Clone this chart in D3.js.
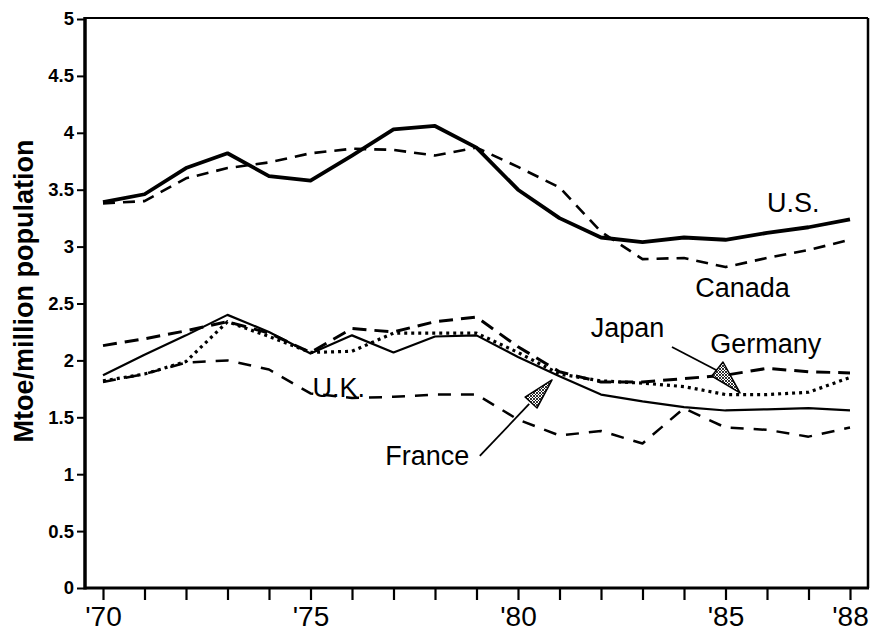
<!DOCTYPE html>
<html>
<head>
<meta charset="utf-8">
<script src="https://cdn.jsdelivr.net/npm/d3@7"></script>
<style>
  html, body { margin: 0; padding: 0; background: #fff; }
  svg { display: block; font-family: "Liberation Sans", Arial, sans-serif; }
</style>
</head>
<body>
<svg id="chart" width="871" height="633"></svg>
<script>
// ---- data ----
const years = [1970,1971,1972,1973,1974,1975,1976,1977,1978,1979,1980,1981,1982,1983,1984,1985,1986,1987,1988];
const us      = [3.39,3.46,3.69,3.82,3.62,3.58,3.80,4.03,4.06,3.87,3.50,3.25,3.08,3.04,3.08,3.06,3.12,3.17,3.24];
const canada  = [3.38,3.40,3.60,3.69,3.74,3.82,3.86,3.85,3.80,3.87,3.70,3.52,3.13,2.89,2.90,2.82,2.90,2.97,3.06];
const france  = [1.87,2.05,2.22,2.40,2.25,2.06,2.22,2.07,2.21,2.22,2.03,1.86,1.70,1.64,1.59,1.56,1.57,1.58,1.56];
const germany = [2.13,2.19,2.26,2.34,2.24,2.07,2.28,2.25,2.34,2.38,2.12,1.90,1.81,1.81,1.84,1.87,1.93,1.90,1.89];
const japan   = [1.82,1.88,1.99,2.34,2.21,2.07,2.08,2.24,2.24,2.24,2.07,1.88,1.82,1.80,1.77,1.70,1.70,1.72,1.85];
const uk      = [1.81,1.88,1.98,2.00,1.92,1.71,1.67,1.68,1.70,1.70,1.48,1.34,1.38,1.27,1.58,1.41,1.39,1.33,1.41];
const yTicks = [0,0.5,1,1.5,2,2.5,3,3.5,4,4.5,5];
const xLabelYears = [1970,1975,1980,1985,1988];
const yTitle = "Mtoe/million population";

// labels in data coordinates [year, value]
const seriesLabels = [
  {text:"U.S.",    at:[1986.0, 3.30]},
  {text:"Canada",  at:[1984.27, 2.557]},
  {text:"Japan",   at:[1981.75, 2.206]},
  {text:"Germany", at:[1984.63, 2.065]},
  {text:"France",  at:[1976.80, 1.081]},
  {text:"U.K.",    at:[1975.05, 1.678]}
];
// callout arrows (data coordinates)
const callouts = [
  {from:[1983.71, 2.118], to:[1984.82, 1.907], head:[[1985.35,1.714],[1984.94,1.986],[1984.67,1.863]]},
  {from:[1979.08, 1.160], to:[1980.27, 1.617], head:[[1980.82,1.828],[1980.17,1.678],[1980.46,1.582]]}
];

// ---- layout ----
const svg = d3.select("#chart");
const frame = {left:85, right:868, top:18, bottom:588};
const x = d3.scaleLinear().domain([1970,1988]).range([103,850]);
const y = d3.scaleLinear().domain([0,5]).range([588,19]);

// hatch pattern
const defs = svg.append("defs");
const pat = defs.append("pattern").attr("id","hatch").attr("patternUnits","userSpaceOnUse")
  .attr("width",3).attr("height",3);
pat.append("rect").attr("width",3).attr("height",3).attr("fill","#fff");
pat.append("path").attr("d","M0,0L3,3M3,0L0,3").attr("stroke","#000").attr("stroke-width",0.8);

// frame: top and right borders
svg.append("line").attr("x1",frame.left).attr("x2",frame.right).attr("y1",frame.top).attr("y2",frame.top)
  .attr("stroke","#000").attr("stroke-width",2);
svg.append("line").attr("x1",frame.right).attr("x2",frame.right).attr("y1",frame.top).attr("y2",frame.bottom)
  .attr("stroke","#000").attr("stroke-width",2.5);

// y axis
const yAxis = d3.axisLeft(y).tickValues(yTicks).tickSize(8).tickPadding(3)
  .tickFormat(d => d3.format("")(d));
const gy = svg.append("g").attr("transform",`translate(${frame.left},0)`).call(yAxis);
gy.select(".domain").remove();
gy.selectAll(".tick line").attr("stroke","#000").attr("stroke-width",2);
gy.selectAll(".tick text").attr("font-size",18.5).attr("font-weight","bold").attr("fill","#000")
  .attr("font-family",'"Liberation Sans", Arial, sans-serif');
svg.append("line").attr("x1",frame.left).attr("x2",frame.left).attr("y1",frame.top-1).attr("y2",frame.bottom+1.5)
  .attr("stroke","#000").attr("stroke-width",3.5);

// x axis
const xAxis = d3.axisBottom(x).tickValues(years).tickSize(12).tickPadding(6)
  .tickFormat(d => xLabelYears.includes(d) ? "'" + String(d).slice(2) : "");
const gx = svg.append("g").attr("transform",`translate(0,${frame.bottom})`).call(xAxis);
gx.select(".domain").remove();
gx.selectAll(".tick line").attr("stroke","#000").attr("stroke-width",2.2);
gx.selectAll(".tick text").attr("font-size",28).attr("fill","#000")
  .attr("font-family",'"Liberation Sans", Arial, sans-serif');
svg.append("line").attr("x1",frame.left).attr("x2",frame.right+1).attr("y1",frame.bottom).attr("y2",frame.bottom)
  .attr("stroke","#000").attr("stroke-width",3);

// y title
svg.append("text").attr("transform","translate(33,291) rotate(-90)")
  .attr("text-anchor","middle").attr("font-size",27).attr("font-weight","bold").text(yTitle);

// series
const series = [
  {values: uk,      width:2.5, dash:"13,10"},
  {values: germany, width:3,   dash:"14,8"},
  {values: japan,   width:3.2, dash:"3,4"},
  {values: france,  width:2.2, dash:null},
  {values: canada,  width:2.6, dash:"12,8"},
  {values: us,      width:3.8, dash:null}
];
const line = d3.line().x((d,i) => x(years[i])).y(d => y(d));
series.forEach(s => {
  svg.append("path").datum(s.values).attr("d", line)
    .attr("fill","none").attr("stroke","#000").attr("stroke-width",s.width)
    .attr("stroke-linejoin","round")
    .attr("stroke-dasharray", s.dash);
});

// labels
svg.selectAll(".slabel").data(seriesLabels).enter().append("text")
  .attr("class","slabel")
  .attr("x", d => x(d.at[0])).attr("y", d => y(d.at[1]))
  .attr("font-size",27).attr("fill","#000").text(d => d.text);

// callouts
callouts.forEach(c => {
  svg.append("line").attr("x1",x(c.from[0])).attr("y1",y(c.from[1]))
    .attr("x2",x(c.to[0])).attr("y2",y(c.to[1]))
    .attr("stroke","#000").attr("stroke-width",1.8);
  svg.append("path")
    .attr("d", "M" + c.head.map(p => x(p[0]) + "," + y(p[1])).join("L") + "Z")
    .attr("fill","url(#hatch)").attr("stroke","#000").attr("stroke-width",1.5).attr("stroke-linejoin","round");
});
</script>
</body>
</html>
